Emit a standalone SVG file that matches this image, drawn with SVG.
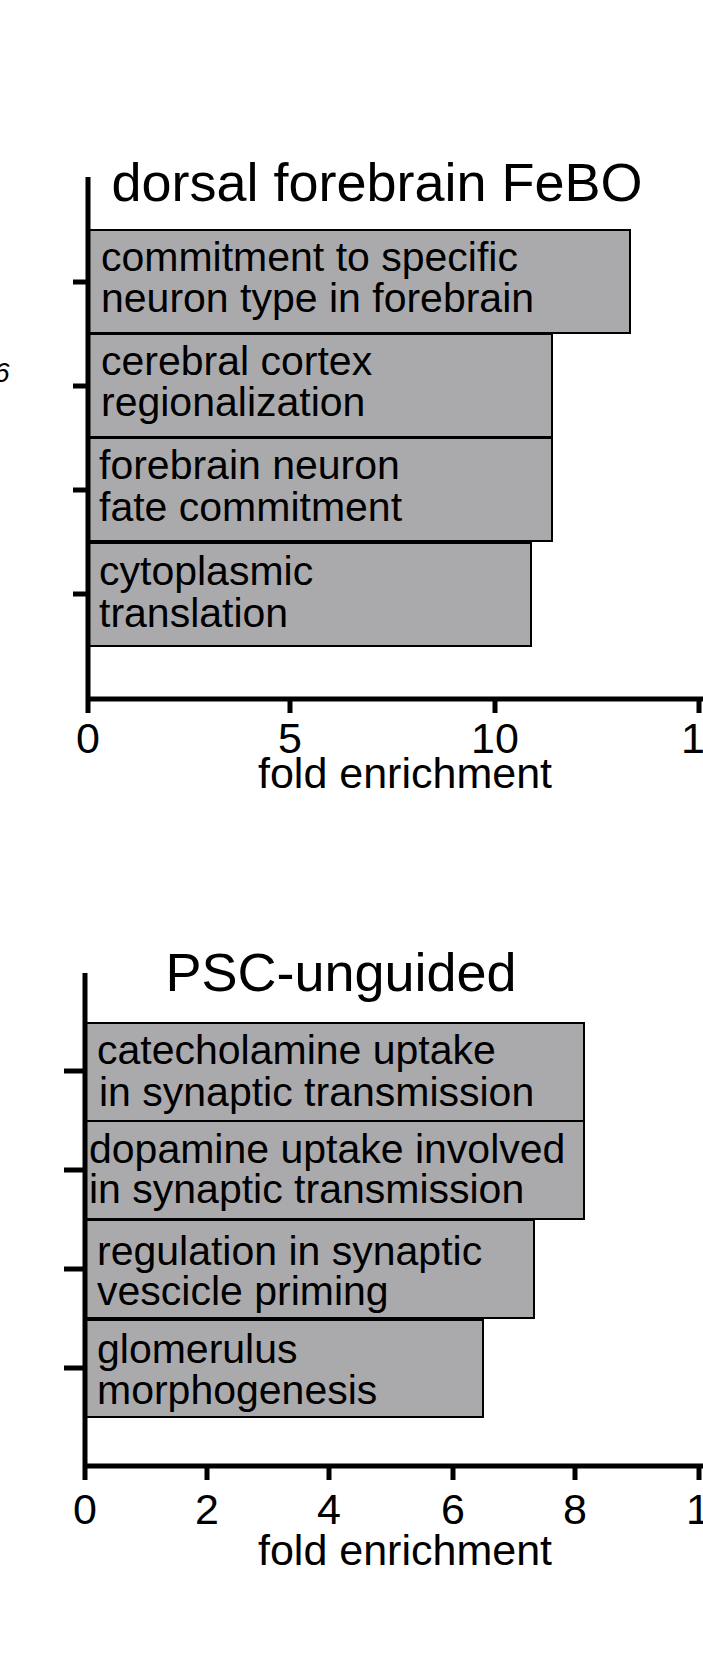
<svg xmlns="http://www.w3.org/2000/svg" width="703" height="1680" viewBox="0 0 703 1680">
<style>
text{font-family:"Liberation Sans",Arial,sans-serif;fill:#000}
.t{font-size:54px;text-anchor:middle}
.l{font-size:41px}
.n{font-size:43px;text-anchor:middle}
.bar{fill:#aaaaad;stroke:#000;stroke-width:2}
.ax{stroke:#000;stroke-width:5;fill:none}
</style>
<rect width="703" height="1680" fill="#fff"/>
<text x="-6" y="382" style="font-size:28px;font-style:italic">6</text>
<g id="chart1">
<text class="t" x="377" y="201">dorsal forebrain FeBO</text>
<g id="bar1-1"><rect class="bar" x="88" y="230" width="542" height="103"/><text class="l" x="101" y="271">commitment to specific</text><text class="l" x="101" y="312">neuron type in forebrain</text></g>
<g id="bar1-2"><rect class="bar" x="88" y="334" width="464" height="103"/><text class="l" x="101" y="375">cerebral cortex</text><text class="l" x="101" y="416">regionalization</text></g>
<g id="bar1-3"><rect class="bar" x="88" y="438" width="464" height="103"/><text class="l" x="99" y="479">forebrain neuron</text><text class="l" x="99" y="521">fate commitment</text></g>
<g id="bar1-4"><rect class="bar" x="88" y="543" width="443" height="103"/><text class="l" x="99" y="585">cytoplasmic</text><text class="l" x="99" y="627">translation</text></g>
<g id="axes1">
<path class="ax" d="M88 177V699H703M73 282H88M73 386H88M73 490H88M73 594H88M88 699V713M290 699V713M495 699V713M699 699V713"/>
<text class="n" x="88" y="753">0</text><text class="n" x="290" y="753">5</text><text class="n" x="495" y="753">10</text><text class="n" x="705" y="753">15</text>
<text class="n" x="405" y="788">fold enrichment</text>
</g>
</g>
<g id="chart2">
<text class="t" x="341" y="991">PSC-unguided</text>
<g id="bar2-1"><rect class="bar" x="85" y="1023" width="499" height="98"/><text class="l" x="97" y="1064">catecholamine uptake</text><text class="l" x="99" y="1106">in synaptic transmission</text></g>
<g id="bar2-2"><rect class="bar" x="85" y="1121" width="499" height="98"/><text class="l" x="89" y="1163">dopamine uptake involved</text><text class="l" x="89" y="1203">in synaptic transmission</text></g>
<g id="bar2-3"><rect class="bar" x="85" y="1220" width="449" height="98"/><text class="l" x="97" y="1265">regulation in synaptic</text><text class="l" x="97" y="1305">vescicle priming</text></g>
<g id="bar2-4"><rect class="bar" x="85" y="1320" width="398" height="97"/><text class="l" x="97" y="1363">glomerulus</text><text class="l" x="97" y="1404">morphogenesis</text></g>
<g id="axes2">
<path class="ax" d="M85 973V1466H703M64 1071H85M64 1170H85M64 1269H85M64 1368H85M85 1466V1480M207 1466V1480M329 1466V1480M453 1466V1480M575 1466V1480M699 1466V1480"/>
<text class="n" x="85" y="1524">0</text><text class="n" x="207" y="1524">2</text><text class="n" x="329" y="1524">4</text><text class="n" x="453" y="1524">6</text><text class="n" x="575" y="1524">8</text><text class="n" x="710" y="1524">10</text>
<text class="n" x="405" y="1565">fold enrichment</text>
</g>
</g>
</svg>
